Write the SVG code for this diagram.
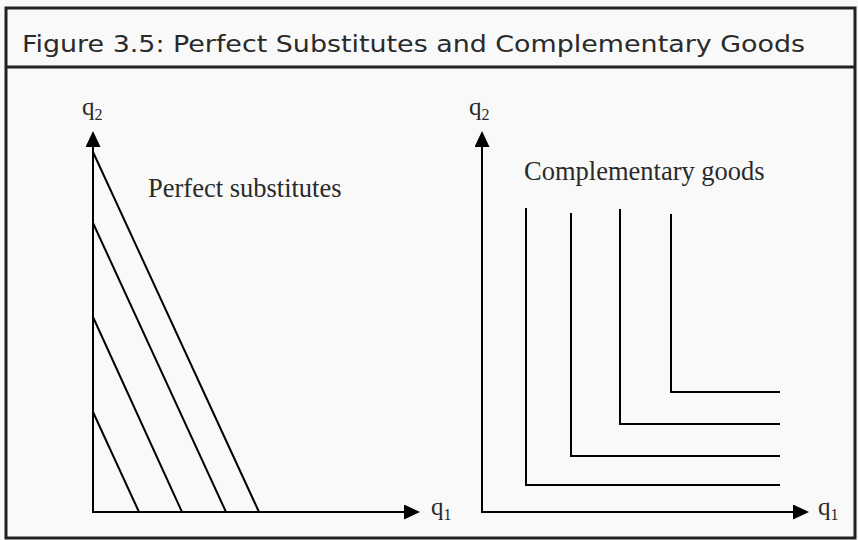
<svg xmlns="http://www.w3.org/2000/svg" width="858" height="540" viewBox="0 0 858 540">
  <style>
    .frame { fill: none; stroke: #222; stroke-width: 3; }
    .axis { fill: none; stroke: #000; stroke-width: 2; }
    .curve { fill: none; stroke: #000; stroke-width: 2; }
    .serif { font-family: "Liberation Serif", "Times New Roman", serif; fill: #2a2a2a; }
    .lbl { font-size: 25px; }
    .sub { font-size: 16px; }
    .title { font-family: "DejaVu Sans", Verdana, sans-serif; font-size: 23.5px; fill: #2a2a2a; }
  </style>
  <defs>
    <marker id="arrow" viewBox="0 0 16 15" refX="0" refY="7.5" markerWidth="16" markerHeight="15" markerUnits="userSpaceOnUse" orient="auto">
      <path d="M0,0 L16,7.5 L0,15 Z" fill="#000"/>
    </marker>
  </defs>
  <rect x="0" y="0" width="858" height="540" fill="#f9f9f9"/>
  <g id="frame">
    <rect class="frame" x="6" y="8" width="849" height="530"/>
    <line class="frame" x1="6" y1="67" x2="855" y2="67"/>
  </g>
  <g id="title">
    <text class="title" x="22" y="52" textLength="783" lengthAdjust="spacingAndGlyphs">Figure 3.5: Perfect Substitutes and Complementary Goods</text>
  </g>
  <g id="panel-substitutes">
    <g id="axes-left">
      <line class="axis" x1="93" y1="512" x2="93" y2="147" marker-end="url(#arrow)"/>
      <line class="axis" x1="92" y1="512" x2="404" y2="512" marker-end="url(#arrow)"/>
    </g>
    <g id="lines-left">
      <line class="curve" x1="93" y1="152" x2="259" y2="512"/>
      <line class="curve" x1="93" y1="223" x2="226" y2="512"/>
      <line class="curve" x1="93" y1="317" x2="182" y2="512"/>
      <line class="curve" x1="93" y1="412" x2="139" y2="512"/>
    </g>
    <text class="serif lbl" x="82" y="115">q<tspan class="sub" dy="4.5">2</tspan></text>
    <text class="serif lbl" x="431" y="515">q<tspan class="sub" dy="4.5">1</tspan></text>
    <text class="serif" x="148" y="197" font-size="26.5">Perfect substitutes</text>
  </g>
  <g id="panel-complements">
    <g id="axes-right">
      <line class="axis" x1="482" y1="512" x2="482" y2="147" marker-end="url(#arrow)"/>
      <line class="axis" x1="481" y1="512" x2="793" y2="512" marker-end="url(#arrow)"/>
    </g>
    <g id="lines-right">
      <polyline class="curve" points="526,208 526,485 780,485"/>
      <polyline class="curve" points="571,213 571,456 780,456"/>
      <polyline class="curve" points="620,209 620,424 780,424"/>
      <polyline class="curve" points="671,214 671,392 780,392"/>
    </g>
    <text class="serif lbl" x="469" y="115">q<tspan class="sub" dy="4.5">2</tspan></text>
    <text class="serif lbl" x="818" y="515">q<tspan class="sub" dy="4.5">1</tspan></text>
    <text class="serif" x="524" y="180" font-size="26.5">Complementary goods</text>
  </g>
</svg>
